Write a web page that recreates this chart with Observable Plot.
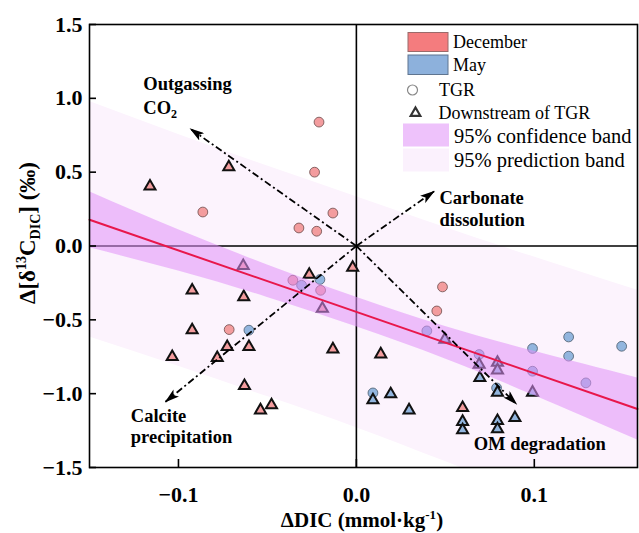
<!DOCTYPE html>
<html><head><meta charset="utf-8">
<script src="https://cdn.jsdelivr.net/npm/d3@7"></script>
<script src="https://cdn.jsdelivr.net/npm/@observablehq/plot@0.6"></script>
<style>body{margin:0;background:#fff} svg{display:block}</style>
</head><body><div id="chart"></div>
<script>
// ---------- data ----------
const xDomain = [-0.15, 0.158];
const yDomain = [-1.5, 1.5];
const xTicks = [-0.1, 0.0, 0.1];
const yTicks = [-1.5, -1.0, -0.5, 0.0, 0.5, 1.0, 1.5];

// December, TGR (circles)
const decTGRx = [-0.021, -0.0235, -0.0863, -0.0132, -0.0323, -0.0223, -0.0357, -0.0201, -0.0715, 0.0484, 0.0452];
const decTGRy = [0.839, 0.50, 0.23, 0.223, 0.122, 0.10, -0.232, -0.30, -0.566, -0.277, -0.44];
// December, downstream of TGR (triangles)
const decDownx = [-0.116, -0.0717, -0.0923, -0.0633, -0.0265, -0.0636, -0.0191, -0.0021, -0.0923, -0.0726, -0.0604, -0.1035, -0.0782, -0.0132, -0.0629, -0.0539, -0.0477, 0.0137, 0.0597];
const decDowny = [0.404, 0.534, -0.30, -0.345, -0.194, -0.135, -0.424, -0.146, -0.57, -0.683, -0.683, -0.751, -0.758, -0.699, -0.947, -1.112, -1.078, -0.733, -1.096];
// May, TGR (circles)
const mayTGRx = [-0.0308, -0.0205, -0.0604, 0.0396, 0.069, 0.0788, 0.099, 0.099, 0.1193, 0.1193, 0.129, 0.1491, 0.0093];
const mayTGRy = [-0.266, -0.227, -0.570, -0.575, -0.735, -0.961, -0.694, -0.848, -0.616, -0.746, -0.927, -0.679, -0.995];
// May, downstream of TGR (triangles)
const mayDownx = [0.0497, 0.069, 0.0793, 0.0793, 0.0694, 0.0793, 0.099, 0.0093, 0.0193, 0.0296, 0.0597, 0.0597, 0.0793, 0.0793, 0.0891];
const mayDowny = [-0.633, -0.803, -0.789, -0.841, -0.893, -0.992, -0.992, -1.044, -1.003, -1.112, -1.19, -1.247, -1.184, -1.24, -1.164];

// regression line and bands
const fitX = [-0.15, 0.158];
const fitY = [0.178, -1.104];
const bandX = [-0.15, -0.1, -0.05, 0.0, 0.05, 0.1, 0.158];
const confUpper = [0.368, 0.110, -0.128, -0.347, -0.545, -0.713, -0.894];
const confLower = [-0.012, -0.170, -0.348, -0.547, -0.765, -1.013, -1.314];
const predUpper = [0.978, 0.755, 0.542, 0.334, 0.125, -0.075, -0.300];
const predLower = [-0.616, -0.815, -1.02, -1.23, -1.46, -1.69, -1.95];

// process arrows (from origin)
const arrowLabels = ["Outgassing CO2", "Carbonate dissolution", "Calcite precipitation", "OM degradation"];
const arrowX = [-0.0933, 0.0437, -0.1073, 0.090];
const arrowY = [0.794, 0.37, -1.055, -1.071];

// annotation anchors (data coords, first-line baseline)
const annX = [-0.1195, 0.047, -0.1265, 0.0662];
const annY = [1.053, 0.279, -1.198, -1.382];

// ---------- colours ----------
const decColor = "#f39c9e", mayColor = "#92b5de";
const decSwatch = "#f47c7e", maySwatch = "#8db1dc";
const confColor = "#e090f8", predColor = "#fcf3fd";

const zip = (xs, ys) => xs.map((x, i) => ({x, y: ys[i]}));
const band = bandX.map((x, i) => ({x, cu: confUpper[i], cl: confLower[i], pu: predUpper[i], pl: predLower[i]}));
const fit = zip(fitX, fitY);
const arrows = arrowX.map((x, i) => ({x0: 0, y0: 0, x, y: arrowY[i]}));

const W = 639, H = 533, mL = 89, mR = 2, mT = 24, mB = 66;
const fmt = d => d3.format(".1f")(d);
const serif = "'Liberation Serif','Times New Roman',serif";

const plot = Plot.plot({
  width: W, height: H, marginLeft: mL, marginRight: mR, marginTop: mT, marginBottom: mB,
  x: {domain: xDomain},
  y: {domain: yDomain},
  style: {fontFamily: serif, background: "white", color: "black", overflow: "visible"},
  marks: [
    Plot.areaY(band, {x: "x", y1: "pl", y2: "pu", fill: predColor, curve: "natural", clip: true}),
    Plot.ruleX([0], {stroke: "black", strokeWidth: 1.6}),
    Plot.ruleY([0], {stroke: "black", strokeWidth: 1.6}),
    Plot.dot(zip(decTGRx, decTGRy), {x: "x", y: "y", r: 4.9, fill: decColor, stroke: "#6b4a4a", strokeWidth: 0.8}),
    Plot.dot(zip(mayTGRx, mayTGRy), {x: "x", y: "y", r: 4.9, fill: mayColor, stroke: "#4a5a6b", strokeWidth: 0.8}),
    Plot.dot(zip(decDownx, decDowny), {x: "x", y: "y", r: 4.1, symbol: "triangle", fill: decColor, stroke: "#111", strokeWidth: 2}),
    Plot.dot(zip(mayDownx, mayDowny), {x: "x", y: "y", r: 4.1, symbol: "triangle", fill: mayColor, stroke: "#111", strokeWidth: 2}),
    Plot.areaY(band, {x: "x", y1: "cl", y2: "cu", fill: confColor, fillOpacity: 0.55, curve: "natural", clip: true}),
    Plot.line(fit, {x: "x", y: "y", stroke: "#e8174b", strokeWidth: 2}),
    Plot.link(arrows, {x1: "x0", y1: "y0", x2: "x", y2: "y", stroke: "black", strokeWidth: 1.8, strokeDasharray: "7,3,2,3"}),
    Plot.frame({stroke: "black", strokeWidth: 1.6}),
    Plot.tickX(xTicks, {x: d => d, stroke: "black", strokeWidth: 1.6, insetTop: H - mT - mB - 8}),
    Plot.tickY(yTicks, {y: d => d, stroke: "black", strokeWidth: 1.6, insetRight: W - mL - mR - 7}),
    Plot.axisX({ticks: xTicks, tickSize: 0, tickPadding: 19, tickFormat: fmt, fontSize: 22, fontWeight: "bold", label: null}),
    Plot.axisY({ticks: yTicks, tickSize: 0, tickPadding: 7, tickFormat: fmt, fontSize: 22, fontWeight: "bold", label: null})
  ]
});
document.getElementById("chart").appendChild(plot);

// ---------- overlays: arrowheads, annotations, axis titles, legend ----------
const svg = d3.select(plot);
const sx = d3.scaleLinear(xDomain, [mL, W - mR]);
const sy = d3.scaleLinear(yDomain, [H - mB, mT]);

svg.append("defs").append("marker")
  .attr("id", "ah").attr("viewBox", "0 0 15 9").attr("refX", 14).attr("refY", 4.5)
  .attr("markerWidth", 15).attr("markerHeight", 9).attr("markerUnits", "userSpaceOnUse").attr("orient", "auto")
  .append("path").attr("d", "M0,0 L15,4.5 L0,9 L3.5,4.5 Z").attr("fill", "black");
svg.selectAll('g[aria-label="link"] path').attr("marker-end", "url(#ah)");

const ann = svg.append("g").attr("font-family", serif).attr("font-weight", "bold").attr("font-size", 18.5)
  .attr("fill", "black").attr("text-anchor", "start");
// Outgassing CO2
let t = ann.append("text").attr("x", sx(annX[0])).attr("y", sy(annY[0]));
t.append("tspan").text("Outgassing");
t = ann.append("text").attr("x", sx(annX[0])).attr("y", sy(annY[0]) + 23.5);
t.append("tspan").text("CO");
t.append("tspan").attr("font-size", 12).attr("dy", 4).text("2");
// Carbonate dissolution
ann.append("text").attr("x", sx(annX[1])).attr("y", sy(annY[1])).text("Carbonate");
ann.append("text").attr("x", sx(annX[1])).attr("y", sy(annY[1]) + 22).text("dissolution");
// Calcite precipitation
ann.append("text").attr("x", sx(annX[2])).attr("y", sy(annY[2])).text("Calcite");
ann.append("text").attr("x", sx(annX[2])).attr("y", sy(annY[2]) + 21).text("precipitation");
// OM degradation
ann.append("text").attr("x", sx(annX[3])).attr("y", sy(annY[3])).text("OM degradation");

// axis titles
const xt = svg.append("text").attr("x", 362).attr("y", 527).attr("text-anchor", "middle")
  .attr("font-family", serif).attr("font-weight", "bold").attr("font-size", 21);
xt.append("tspan").text("\u0394DIC (mmol\u00b7kg");
xt.append("tspan").attr("font-size", 13).attr("dy", -8).text("-1");
xt.append("tspan").attr("dy", 8).text(")");

const yt = svg.append("text").attr("transform", "translate(35,233) rotate(-90)").attr("text-anchor", "middle")
  .attr("font-family", serif).attr("font-weight", "bold").attr("font-size", 23);
yt.append("tspan").text("\u0394[\u03b4");
yt.append("tspan").attr("font-size", 14).attr("dy", -9).text("13");
yt.append("tspan").attr("dy", 9).text("C");
yt.append("tspan").attr("font-size", 14).attr("dy", 5).text("DIC");
yt.append("tspan").attr("dy", -5).text("] (\u2030)");

// legend
const lg = svg.append("g").attr("font-family", serif).attr("fill", "black").attr("text-anchor", "start");
lg.append("rect").attr("x", 408).attr("y", 32.5).attr("width", 40).attr("height", 19).attr("fill", decSwatch).attr("stroke", "#9a6a6a").attr("stroke-width", 1);
lg.append("text").attr("x", 453).attr("y", 48).attr("font-size", 18).text("December");
lg.append("rect").attr("x", 408).attr("y", 55).attr("width", 40).attr("height", 19.5).attr("fill", maySwatch).attr("stroke", "#5f7590").attr("stroke-width", 1);
lg.append("text").attr("x", 453).attr("y", 70.5).attr("font-size", 18).text("May");
lg.append("circle").attr("cx", 412.5).attr("cy", 90).attr("r", 5).attr("fill", "white").attr("stroke", "#888").attr("stroke-width", 1.2);
lg.append("text").attr("x", 439).attr("y", 96).attr("font-size", 18).text("TGR");
lg.append("path").attr("d", d3.symbol(d3.symbolTriangle, 40)()).attr("transform", "translate(415.5,113)")
  .attr("fill", "white").attr("stroke", "#333").attr("stroke-width", 2.2);
lg.append("text").attr("x", 438.5).attr("y", 118.5).attr("font-size", 18).text("Downstream of TGR");
lg.append("rect").attr("x", 403).attr("y", 123.5).attr("width", 46).attr("height", 23).attr("fill", "#eec2fb");
lg.append("text").attr("x", 454).attr("y", 143).attr("font-size", 20.5).text("95% confidence band");
lg.append("rect").attr("x", 403).attr("y", 148.5).attr("width", 46).attr("height", 23).attr("fill", "#fbf1fd");
lg.append("text").attr("x", 454).attr("y", 166.5).attr("font-size", 20.5).text("95% prediction band");
</script>
</body></html>
